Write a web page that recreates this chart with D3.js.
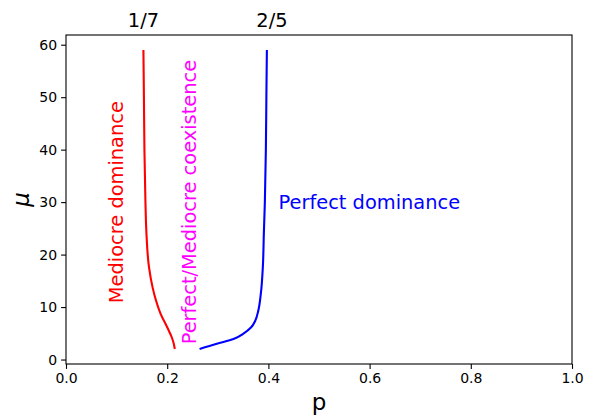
<!DOCTYPE html>
<html><head><meta charset="utf-8">
<script src="https://cdn.jsdelivr.net/npm/d3@7"></script>
<style>body{margin:0;background:#fff}svg{display:block}text{font-family:"DejaVu Sans",sans-serif}</style>
</head><body><svg id="c" width="593" height="418"></svg>
<script>
// Mediocre dominance boundary (red)
const redP  = [0.153,0.154,0.155,0.157,0.159,0.164,0.171,0.178,0.187,0.200,0.209,0.213,0.215];
const redMu = [59,50,40,30,24,17.6,13.8,11.2,8.7,6.15,4.25,3.0,2.0];
// Perfect dominance boundary (blue)
const blueP  = [0.397,0.396,0.395,0.393,0.391,0.389,0.385,0.380,0.374,0.366,0.350,0.331,0.298,0.264];
const blueMu = [59,50,40,30,24,17.6,12.5,9.3,7.4,6.15,4.9,3.9,3.0,2.0];
const xTicks = [0,0.2,0.4,0.6,0.8,1.0];
const yTicks = [0,10,20,30,40,50,60];
const topLabels = ["1/7","2/5"];
const topLabelP = [0.153,0.407];

const svg = d3.select("#c");
const L=66,R=572,T=35,B=364;
const x = d3.scaleLinear().domain([0,1]).range([L,R]);
const y = d3.scaleLinear().domain([-0.85,61.85]).range([B,T]);

const line = d3.line().x(d=>x(d[0])).y(d=>y(d[1])).curve(d3.curveMonotoneY);
svg.append("path").attr("d",line(redP.map((p,i)=>[p,redMu[i]]))).attr("fill","none").attr("stroke","#ff0000").attr("stroke-width",2.1);
svg.append("path").attr("d",line(blueP.map((p,i)=>[p,blueMu[i]]))).attr("fill","none").attr("stroke","#0000ff").attr("stroke-width",2.1);

const xa = svg.append("g").attr("transform",`translate(0,${B})`).call(d3.axisBottom(x).tickValues(xTicks).tickFormat(d3.format(".1f")).tickSize(4.9).tickSizeOuter(0).tickPadding(4));
const ya = svg.append("g").attr("transform",`translate(${L},0)`).call(d3.axisLeft(y).tickValues(yTicks).tickSize(4.9).tickSizeOuter(0).tickPadding(4));
[xa,ya].forEach(a=>{a.select(".domain").remove();a.selectAll("line").attr("stroke","#000").attr("stroke-width",1.1);a.selectAll("text").attr("font-size",14).attr("fill","#000").style("font-family","DejaVu Sans");});
svg.append("rect").attr("x",L).attr("y",T).attr("width",R-L).attr("height",B-T).attr("fill","none").attr("stroke","#000").attr("stroke-width",1.1);

svg.selectAll(".tl").data(topLabels).enter().append("text").attr("x",(d,i)=>x(topLabelP[i])).attr("y",27).attr("text-anchor","middle").attr("font-size",19.4).text(d=>d);

svg.append("text").attr("x",(L+R)/2).attr("y",410).attr("text-anchor","middle").attr("font-size",23).text("p");
svg.append("text").attr("transform",`translate(29,${(T+B)/2}) rotate(-90)`).attr("text-anchor","middle").attr("font-size",23).attr("font-style","italic").text("μ");

svg.append("text").attr("transform",`translate(${x(0.1)},${y(30)}) rotate(-90)`).attr("text-anchor","middle").attr("dominant-baseline","central").attr("font-size",19.4).attr("fill","#ff0000").text("Mediocre dominance");
svg.append("text").attr("transform",`translate(${x(0.245)},${y(30)}) rotate(-90)`).attr("text-anchor","middle").attr("dominant-baseline","central").attr("font-size",19.4).attr("fill","#ff00ff").text("Perfect/Mediocre coexistence");
svg.append("text").attr("x",x(0.42)).attr("y",y(30)).attr("dominant-baseline","central").attr("font-size",19.4).attr("fill","#0000ff").text("Perfect dominance");
</script></body></html>
